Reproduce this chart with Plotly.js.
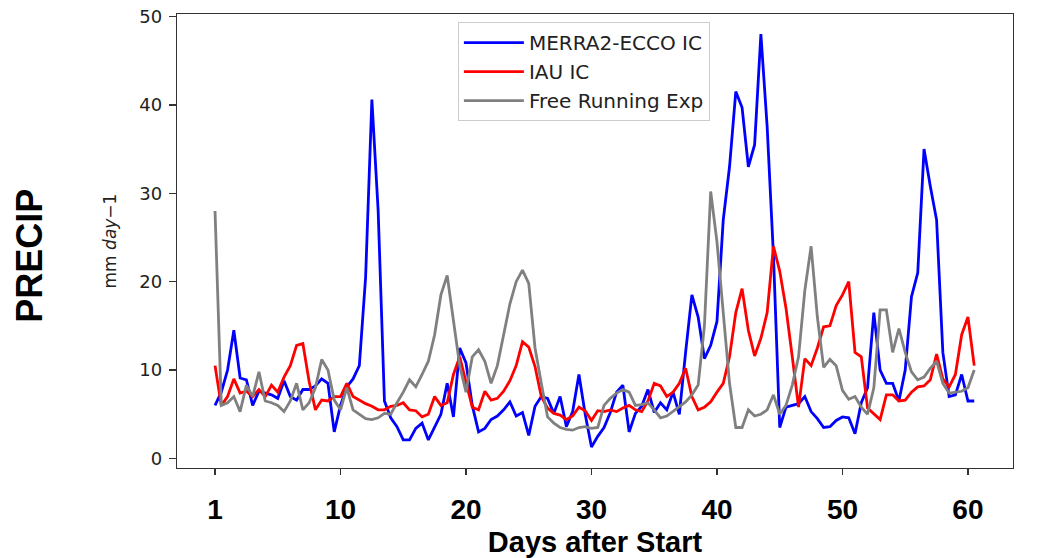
<!DOCTYPE html>
<html>
<head>
<meta charset="utf-8">
<script src="https://cdn.plot.ly/plotly-3.0.1.min.js"></script>
<style>
  html, body { margin: 0; padding: 0; background: #fff; }
  #chart { width: 1043px; height: 558px; }
</style>
</head>
<body>
<div id="chart"></div>
<script>
// Precipitation (mm day-1), sampled every half day from the start
const merraEcco = [
  6.0, 7.5, 10.0, 14.5, 9.1, 8.9, 6.0, 7.6, 7.4, 7.2,
  6.8, 8.8, 7.0, 6.6, 7.8, 7.8, 8.2, 9.0, 8.5, 3.0,
  6.0, 8.1, 9.0, 10.5, 20.5, 40.6, 28.0, 6.5, 4.6, 3.6,
  2.1, 2.1, 3.4, 4.0, 2.1, 3.6, 5.0, 8.5, 4.7, 12.5,
  10.8, 6.0, 3.0, 3.4, 4.4, 4.8, 5.5, 6.4, 4.8, 5.2,
  2.6, 5.9, 7.0, 6.8, 5.1, 7.0, 3.6, 5.3, 9.5, 5.0,
  1.3, 2.5, 3.5, 5.2, 7.5, 8.3, 3.0, 5.1, 5.9, 7.8,
  5.2, 6.3, 5.5, 7.5, 5.0, 12.0, 18.5, 16.0, 11.3, 12.8,
  15.5, 27.0, 33.0, 41.5, 39.7, 33.0, 35.5, 48.0, 37.5, 23.0,
  3.5, 5.8, 6.0, 6.2, 7.0, 5.3, 4.5, 3.5, 3.6, 4.3,
  4.7, 4.6, 2.8, 6.3, 8.0, 16.5, 10.0, 8.5, 8.5, 6.5,
  10.0, 18.3, 21.0, 35.0, 30.8, 27.0, 12.0, 7.0, 7.2, 9.5,
  6.5, 6.5
];
const iauIc = [
  10.5, 6.0, 7.0, 9.0, 7.4, 7.6, 7.0, 7.8, 7.0, 8.3,
  7.5, 9.2, 10.5, 12.8, 13.0, 8.7, 5.5, 6.6, 6.5, 7.0,
  7.0, 8.5, 7.0, 6.6, 6.2, 5.9, 5.5, 5.5, 5.9, 6.0,
  6.3, 5.5, 5.4, 4.7, 5.0, 7.0, 6.0, 6.3, 9.5, 11.5,
  8.5, 5.8, 5.5, 7.6, 6.6, 6.8, 7.6, 8.8, 10.5, 13.2,
  12.6, 10.4, 7.0, 5.7, 5.1, 4.9, 4.4, 4.8, 5.8, 5.4,
  4.3, 5.4, 5.3, 5.5, 5.3, 5.7, 6.0, 5.5, 5.3, 6.5,
  8.5, 8.2, 7.0, 7.5, 8.5, 10.2, 7.0, 5.5, 5.8, 6.4,
  7.5, 8.5, 11.5, 16.5, 19.2, 14.5, 11.6, 13.6, 16.5, 24.0,
  21.2, 17.0, 11.5, 5.8, 11.3, 10.5, 12.5, 14.9, 15.0, 17.3,
  18.5, 20.0, 12.0, 11.5, 5.7, 5.0, 4.4, 7.2, 7.2, 6.5,
  6.6, 7.5, 8.1, 8.2, 8.9, 11.8, 9.0, 8.1, 9.5, 14.0,
  16.0, 10.5
];
const freeRunning = [
  28.0, 6.0, 6.3, 7.0, 5.3, 8.3, 7.0, 9.8, 6.5, 6.3,
  6.0, 5.3, 6.5, 8.5, 5.5, 6.3, 8.0, 11.2, 10.0, 6.6,
  5.5, 8.0, 5.5, 5.0, 4.5, 4.4, 4.6, 5.1, 5.0, 6.3,
  7.5, 8.9, 8.1, 9.5, 11.0, 14.0, 18.5, 20.7, 15.5, 10.5,
  7.5, 11.5, 12.3, 11.0, 8.5, 10.5, 14.0, 17.5, 20.0, 21.3,
  19.8, 12.5, 8.5, 4.7, 4.0, 3.5, 3.3, 3.2, 3.5, 3.6,
  3.4, 3.5, 6.0, 6.8, 7.4, 7.8, 7.5, 6.0, 6.1, 6.3,
  5.5, 4.6, 4.8, 5.3, 5.8, 6.4, 7.2, 8.3, 15.0, 30.2,
  24.5, 16.5, 8.5, 3.5, 3.5, 5.5, 4.8, 5.0, 5.5, 7.2,
  5.0, 6.0, 8.3, 11.5, 19.0, 24.0, 16.0, 10.3, 11.2, 10.5,
  7.7, 6.7, 7.0, 5.8, 5.0, 8.0, 16.8, 16.8, 12.0, 14.7,
  12.0, 9.8, 8.9, 9.2, 10.2, 11.0, 8.5, 7.4, 7.5, 7.6,
  8.0, 10.0
];
const seriesNames = ['MERRA2-ECCO IC', 'IAU IC', 'Free Running Exp'];
const seriesColors = ['#0000ff', '#ff0000', '#808080'];
const tickPositions = [0, 10, 20, 30, 40, 50, 60];
const tickLabels = ['1', '10', '20', '30', '40', '50', '60'];

// time index in days (half-day sampling)
const dayIndex = merraEcco.map((_, i) => i * 0.5);

const allSeries = [merraEcco, iauIc, freeRunning];
const traces = allSeries.map((vals, j) => ({
  type: 'scatter',
  mode: 'lines',
  x: dayIndex,
  y: vals,
  name: seriesNames[j],
  legendgroup: 'g' + j,
  line: { color: seriesColors[j], width: 2.8 },
  hoverinfo: 'skip'
}));

const boldFont = '"Liberation Sans", Arial, sans-serif';

const layout = {
  width: 1043,
  height: 558,
  paper_bgcolor: '#ffffff',
  plot_bgcolor: '#ffffff',
  margin: { l: 177, r: 30, t: 14, b: 90 },
  showlegend: true,
  legend: {
    x: 0.336, y: 0.982, xanchor: 'left', yanchor: 'top',
    bgcolor: 'rgba(255,255,255,0.85)',
    bordercolor: '#cccccc', borderwidth: 1,
    font: { family: 'DejaVu Sans', size: 20, color: '#222' },
    itemwidth: 60,
    traceorder: 'grouped',
    tracegroupgap: 0
  },
  xaxis: {
    range: [-3.03, 63.59],
    tickmode: 'array',
    tickvals: tickPositions,
    ticktext: tickLabels,
    ticks: 'outside', ticklen: 6, tickwidth: 1.3, tickcolor: '#333',
    ticklabelstandoff: 10,
    tickfont: { family: boldFont, size: 28, color: '#000', weight: 'bold' },
    showline: true, mirror: true, linecolor: '#333', linewidth: 1.3,
    showgrid: false, zeroline: false,
    title: {
      text: '<b>Days after Start</b>',
      font: { family: boldFont, size: 29, color: '#000' },
      standoff: 7
    }
  },
  yaxis: {
    range: [-1.08, 50.28],
    tickmode: 'array',
    tickvals: [0, 10, 20, 30, 40, 50],
    ticks: 'outside', ticklen: 7, tickwidth: 1.3, tickcolor: '#333',
    ticklabelstandoff: 3,
    tickfont: { family: 'DejaVu Sans', size: 18, color: '#222' },
    showline: true, mirror: true, linecolor: '#333', linewidth: 1.3,
    showgrid: false, zeroline: false,
    title: {
      text: 'mm <i>day</i>\u22121',
      font: { family: 'DejaVu Sans', size: 17, color: '#222' },
      standoff: 18
    }
  },
  annotations: [{
    text: '<b>PRECIP</b>',
    xref: 'paper', yref: 'paper',
    x: -0.176, y: 0.467,
    xanchor: 'center', yanchor: 'middle',
    textangle: -90,
    showarrow: false,
    font: { family: boldFont, size: 36, color: '#000' }
  }]
};

Plotly.newPlot('chart', traces, layout, { displayModeBar: false, staticPlot: true });
</script>
</body>
</html>
